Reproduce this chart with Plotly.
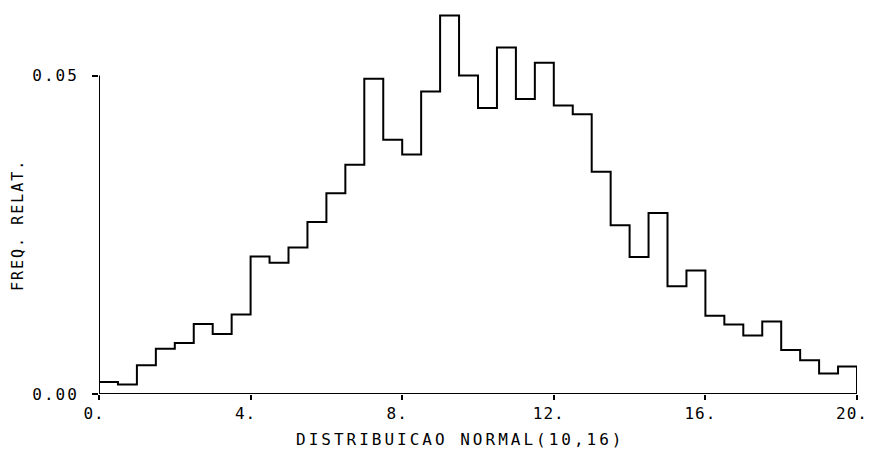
import plotly.graph_objects as go

# Histogram bin edges (width 0.5 from 0 to 20) and relative frequencies
bin_left = [i * 0.5 for i in range(40)]
freq = [
    0.0019, 0.0015, 0.0045, 0.0071, 0.0080, 0.0110, 0.0094, 0.0125,
    0.0216, 0.0206, 0.0230, 0.0270, 0.0315, 0.0360, 0.0495, 0.0399,
    0.0376, 0.0475, 0.0594, 0.0500, 0.0449, 0.0544, 0.0463, 0.0520,
    0.0453, 0.0439, 0.0349, 0.0265, 0.0215, 0.0284, 0.0169, 0.0194,
    0.0123, 0.0109, 0.0092, 0.0114, 0.0069, 0.0053, 0.0032, 0.0043,
]
x_ticks = [0, 4, 8, 12, 16, 20]
x_tick_text = ["0.", "4.", "8.", "12.", "16.", "20."]
y_ticks = [0.0, 0.05]
y_tick_text = ["0.00", "0.05"]
x_title = "DISTRIBUICAO NORMAL(10,16)"
y_title = "FREQ. RELAT."

FONT = "DejaVu Sans Mono"

xs = bin_left + [20, 20]
ys = freq + [freq[-1], 0]

fig = go.Figure()
fig.add_trace(go.Scatter(
    x=xs, y=ys, mode="lines", line=dict(color="black", width=2, shape="hv"),
    hoverinfo="skip", showlegend=False,
))

ymax = 0.05 * 394 / 318.5

fig.update_layout(
    width=870, height=453,
    margin=dict(l=99, r=13, t=0, b=59),
    paper_bgcolor="white", plot_bgcolor="white",
    font=dict(family=FONT, size=16, color="black"),
    xaxis=dict(
        range=[0, 20], showgrid=False, zeroline=False, showline=False,
        tickmode="array", tickvals=x_ticks, ticktext=x_tick_text,
        ticks="outside", ticklen=5, tickwidth=1.5, tickcolor="black",
        ticklabelshift=-5, tickfont=dict(family=FONT, size=16, color="black"),
    ),
    yaxis=dict(
        range=[0, ymax], showgrid=False, zeroline=False, showline=False,
        tickmode="array", tickvals=y_ticks, ticktext=y_tick_text,
        ticks="outside", ticklen=6, tickwidth=1.5, tickcolor="black",
        ticklabelstandoff=10, tickfont=dict(family=FONT, size=16, color="black"),
    ),
    shapes=[
        dict(type="line", xref="x", yref="y", x0=0, x1=20, y0=0, y1=0,
             line=dict(color="black", width=2)),
        dict(type="line", xref="x", yref="y", x0=0, x1=0, y0=0, y1=0.05,
             line=dict(color="black", width=2)),
    ],
    annotations=[
        dict(text=x_title, xref="paper", yref="paper",
             x=(460 - 99) / 758, y=(394 - 439) / 394,
             xanchor="center", yanchor="middle", showarrow=False,
             font=dict(family=FONT, size=16, color="black")),
        dict(text=y_title, xref="paper", yref="y",
             x=(18 - 99) / 758, y=(394 - 225) / (394 / ymax),
             xanchor="center", yanchor="middle", showarrow=False, textangle=-90,
             font=dict(family=FONT, size=15, color="black")),
    ],
)

post = """
var s = document.createElement('style');
s.innerHTML = '.xtick text {letter-spacing: 1px;} .ytick text {letter-spacing: 2px;}'
  + ' .annotation[data-index="0"] .annotation-text {letter-spacing: 3px;}'
  + ' .annotation[data-index="1"] .annotation-text {letter-spacing: 2px;}';
document.head.appendChild(s);
"""

fig.write_html("out.html", post_script=post)
